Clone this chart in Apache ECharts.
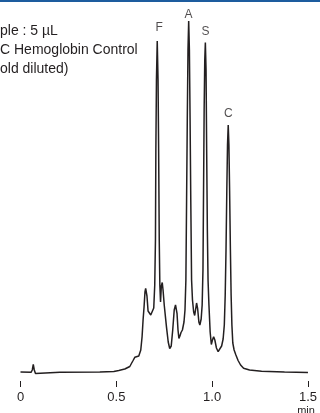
<!DOCTYPE html>
<html>
<head>
<meta charset="utf-8">
<script src="https://cdn.jsdelivr.net/npm/echarts@6/dist/echarts.min.js"></script>
<style>
  html, body { margin: 0; padding: 0; background: #fff; }
  #chart { width: 320px; height: 413px; }
</style>
</head>
<body>
<div id="chart"></div>
<script>
// retention time (min) and detector signal
var times = [0.000, 0.055, 0.0615, 0.0667, 0.0719, 0.0781, 0.0859, 0.206, 0.414, 0.487,
    0.513, 0.5443, 0.5703, 0.586, 0.5964, 0.6172, 0.6276, 0.6344, 0.6396, 0.6448,
    0.6495, 0.6531, 0.6563, 0.6599, 0.6656, 0.6708, 0.6755, 0.6797, 0.6875, 0.6953,
    0.7005, 0.7042, 0.7063, 0.7094, 0.7135, 0.7177, 0.7208, 0.7240, 0.7271, 0.7307,
    0.7349, 0.7396, 0.7438, 0.7500, 0.7615, 0.7708, 0.7786, 0.7865, 0.7943, 0.8021,
    0.8089, 0.8167, 0.8219, 0.8266, 0.8318, 0.8375, 0.8448, 0.8531, 0.8583, 0.8630,
    0.8667, 0.8703, 0.8740, 0.8776, 0.8813, 0.8849, 0.8885, 0.8927, 0.8974, 0.9036,
    0.9089, 0.9141, 0.9188, 0.9245, 0.9307, 0.9359, 0.9427, 0.9479, 0.9521, 0.9552,
    0.9583, 0.9615, 0.9646, 0.9682, 0.9714, 0.9750, 0.9786, 0.9833, 0.9896, 0.9958,
    1.0016, 1.0078, 1.0141, 1.0224, 1.0313, 1.0406, 1.0495, 1.0573, 1.0635, 1.0682,
    1.0724, 1.0766, 1.0802, 1.0839, 1.0875, 1.0911, 1.0953, 1.0990, 1.1031, 1.1078,
    1.1146, 1.1240, 1.1354, 1.1484, 1.1641, 1.1953, 1.2578, 1.3776, 1.500];
var signal = [0, -0.3, 2, 7.5, 2, -1.5, -0.5, -0.2, 0, 0.5,
    1.5, 3, 5.5, 11, 14.7, 16, 22, 35.3, 52, 65.3,
    80, 83.5, 83, 76, 61, 60.5, 60, 57, 55.5, 64,
    87, 132, 222, 292, 331, 292, 222, 132, 87, 70,
    86, 89.5, 82, 67, 45.3, 30, 23.5, 26, 42, 62,
    67, 58.7, 42, 33.5, 36, 39.5, 42, 50, 62, 92,
    172, 252, 322, 351, 322, 252, 172, 92, 72, 60,
    56.5, 63, 69, 63, 50, 47, 53, 67, 102, 182,
    262, 312, 329.5, 302, 222, 142, 92, 67, 40, 27.5,
    32, 35.3, 32, 24, 20.3, 21, 26, 33, 47, 77,
    122, 182, 227, 247, 227, 182, 122, 77, 47, 29,
    22, 17, 11.5, 7, 3.7, 2, 0.7, 0, -0.5];

var peakNames = ['F', 'A', 'S', 'C'];
var peakLabelTimes = [0.724, 0.876, 0.966, 1.085];
var peakLabelHeights = [344.5, 357, 340.3, 258.2];

var xTickLabels = ['0', '0.5', '1.0', '1.5'];
var annotationLines = ['ple : 5 µL', 'C Hemoglobin Control', 'old diluted)'];

var ink = '#231f20';
var font = '"Liberation Sans", Arial, sans-serif';

var lineData = [];
for (var i = 0; i < times.length; i++) {
    lineData.push([times[i], signal[i]]);
}
var labelData = [];
for (var j = 0; j < peakNames.length; j++) {
    labelData.push({ name: peakNames[j], value: [peakLabelTimes[j], peakLabelHeights[j]] });
}

var chart = echarts.init(document.getElementById('chart'), null, { renderer: 'canvas' });

var graphics = [{
    type: 'rect',
    shape: { x: 0, y: 0, width: 320, height: 2 },
    style: { fill: '#1d5c9e' }
}, {
    type: 'text',
    x: 306, y: 405,
    style: { text: 'min', fill: ink, font: '11px ' + font, textAlign: 'center', textVerticalAlign: 'top' }
}];
for (var k = 0; k < annotationLines.length; k++) {
    graphics.push({
        type: 'text',
        x: 0, y: 31.5 + k * 19,
        style: { text: annotationLines[k], fill: ink, font: '14px ' + font, textVerticalAlign: 'middle' }
    });
}

var option = {
    backgroundColor: '#fff',
    animation: false,
    grid: { left: 20.5, right: 11.5, top: 21, bottom: 32 },
    xAxis: {
        type: 'value',
        position: 'bottom',
        min: 0,
        max: 1.5,
        interval: 0.5,
        splitLine: { show: false },
        axisLine: { show: true, onZero: false, lineStyle: { color: '#fff', width: 0.5 } },
        axisTick: { show: true, inside: false, length: 6, lineStyle: { color: ink, width: 1 } },
        axisLabel: {
            margin: 10,
            color: ink,
            fontSize: 13,
            fontFamily: font,
            formatter: function (v) { return xTickLabels[Math.round(v / 0.5)]; }
        }
    },
    yAxis: {
        type: 'value',
        min: -9,
        max: 351,
        show: false
    },
    series: [{
        type: 'line',
        data: lineData,
        showSymbol: false,
        symbol: 'none',
        clip: false,
        lineStyle: { color: ink, width: 1.5 }
    }, {
        type: 'scatter',
        data: labelData,
        symbolSize: 0,
        clip: false,
        silent: true,
        label: {
            show: true,
            position: 'inside',
            formatter: '{b}',
            color: ink,
            fontSize: 12,
            fontFamily: font
        }
    }],
    graphic: graphics
};

chart.setOption(option);
</script>
</body>
</html>
